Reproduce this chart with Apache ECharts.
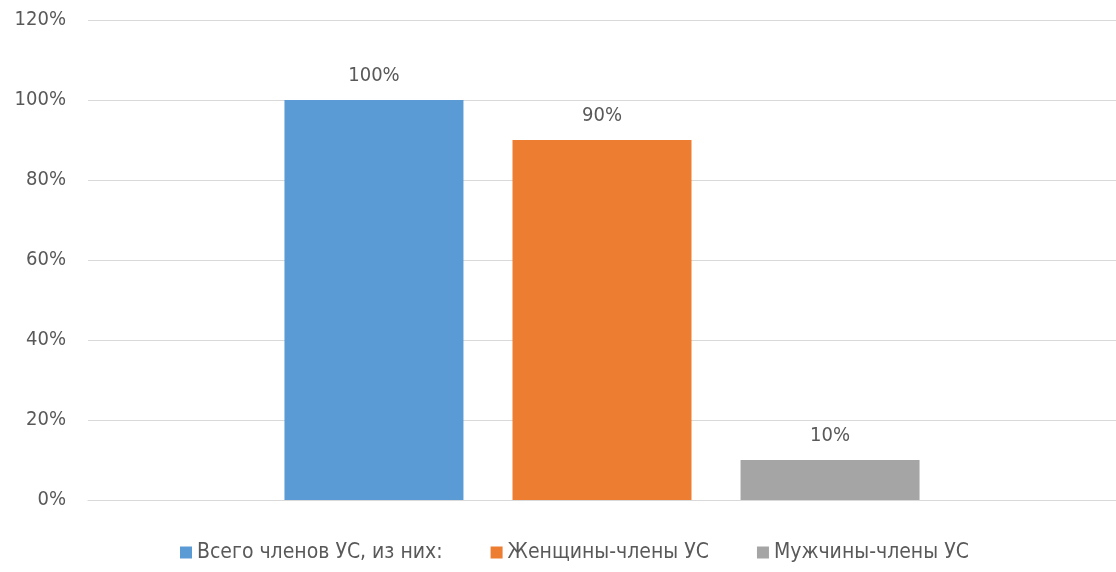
<!DOCTYPE html>
<html>
<head>
<meta charset="utf-8">
<script src="https://cdn.jsdelivr.net/npm/echarts@6/dist/echarts.min.js"></script>
<style>
  html, body { margin: 0; padding: 0; background: #fff; }
  #chart { width: 1116px; height: 572px; }
</style>
</head>
<body>
<div id="chart"></div>
<script>
const categories = [""];
const seriesNames = ["Всего членов УС, из них:", "Женщины-члены УС", "Мужчины-члены УС"];
const totalValues = [100];
const womenValues = [90];
const menValues = [10];
const colors = ["#5b9bd5", "#ed7d31", "#a5a5a5"];

const font = "'Liberation Sans Narrow', 'DejaVu Sans Condensed', 'Liberation Sans', sans-serif";
const textColor = "#595959";

const chart = echarts.init(document.getElementById("chart"));

const makeSeries = (name, data, color) => ({
  name: name,
  type: "bar",
  data: data,
  barWidth: 179,
  barGap: "27.4%",
  itemStyle: { color: color },
  label: {
    show: true,
    position: "top",
    distance: 14,
    formatter: (p) => p.value + "%",
    color: textColor,
    fontSize: 20,
    fontFamily: font,
  },
});

chart.setOption({
  animation: false,
  color: colors,
  grid: {
    left: 88,
    right: 0,
    top: 20,
    bottom: 72,
  },
  legend: {
    bottom: 4,
    left: 175,
    itemWidth: 12,
    itemHeight: 12,
    itemGap: 48,
    icon: "rect",
    textStyle: { color: textColor, fontSize: 21, fontFamily: font },
    data: seriesNames,
  },
  xAxis: {
    type: "category",
    data: categories,
    axisLine: { show: true, lineStyle: { color: "#d9d9d9" } },
    axisTick: { show: false },
    axisLabel: { show: false },
  },
  yAxis: {
    type: "value",
    min: 0,
    max: 120,
    interval: 20,
    axisLine: { show: false },
    axisTick: { show: false },
    axisLabel: {
      formatter: "{value}%",
      color: textColor,
      fontSize: 20,
      fontFamily: font,
      margin: 22,
    },
    splitLine: { lineStyle: { color: "#d9d9d9" } },
  },
  series: [
    makeSeries(seriesNames[0], totalValues, colors[0]),
    makeSeries(seriesNames[1], womenValues, colors[1]),
    makeSeries(seriesNames[2], menValues, colors[2]),
  ],
});
</script>
</body>
</html>
